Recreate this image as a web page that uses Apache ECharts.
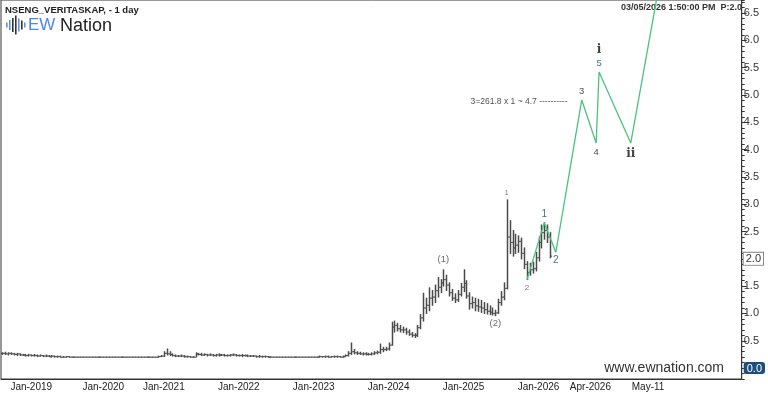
<!DOCTYPE html>
<html><head><meta charset="utf-8">
<script src="https://cdn.jsdelivr.net/npm/echarts@6/dist/echarts.min.js"></script>
<style>html,body{margin:0;padding:0;background:#fff}#c{width:768px;height:395px}</style>
</head><body><div id="c"></div>
<script>
// ---------------- data ----------------
// history: one bar every 14 days (dates with no bar are skipped)
const histStart = '2018-08-17';
const histStepDays = 14;
const histSkip = ['2019-09-27','2020-04-10','2020-04-24','2020-05-08','2020-05-22','2020-06-05'];
// projection area of the axis
const futureStart = '2026-03-06';
const futureStepDays = 2;
const futureCount = 66;

const barLow = [
 0.25,0.25,0.24,0.25,0.24,0.23,0.23,0.23,0.22,0.22,
 0.22,0.22,0.21,0.22,0.21,0.21,0.21,0.20,0.20,0.20,
 0.20,0.20,0.20,0.20,0.20,0.20,0.20,0.20,0.20,0.20,
 0.20,0.20,0.20,0.20,0.20,0.20,0.20,0.20,0.20,0.20,
 0.20,0.20,0.20,0.20,0.20,0.20,0.20,0.20,0.20,0.20,
 0.20,0.20,0.20,0.20,0.20,0.21,0.21,0.24,0.23,0.22,
 0.21,0.21,0.21,0.20,0.20,0.20,0.20,0.21,0.24,0.23,
 0.23,0.22,0.23,0.22,0.22,0.22,0.23,0.22,0.22,0.22,
 0.23,0.22,0.22,0.21,0.22,0.21,0.21,0.21,0.20,0.20,
 0.20,0.20,0.20,0.20,0.20,0.20,0.20,0.20,0.20,0.20,
 0.20,0.20,0.20,0.20,0.20,0.20,0.20,0.20,0.20,0.20,
 0.20,0.20,0.20,0.20,0.20,0.20,0.20,0.20,0.20,0.21,
 0.22,0.25,0.26,0.25,0.25,0.24,0.24,0.24,0.24,0.25,
 0.26,0.27,0.30,0.32,0.33,0.42,0.66,0.68,0.66,0.65,
 0.62,0.60,0.57,0.56,0.58,0.72,0.86,1.00,1.05,1.15,
 1.20,1.30,1.38,1.50,1.42,1.32,1.24,1.20,1.22,1.32,
 1.40,1.28,1.08,1.10,1.05,1.04,1.02,1.00,0.99,0.98,
 0.97,0.96,1.00,1.15,1.25,1.45,2.10,2.05,2.10,2.12,
 2.00,1.82,1.62,1.70,1.74,1.78,1.96,2.20,2.36,2.30,
 2.02
];
const barHigh = [
 0.28,0.29,0.28,0.28,0.27,0.27,0.26,0.25,0.25,0.25,
 0.24,0.25,0.24,0.24,0.23,0.24,0.23,0.23,0.22,0.22,
 0.22,0.21,0.21,0.21,0.20,0.20,0.20,0.20,0.20,0.20,
 0.20,0.20,0.20,0.20,0.20,0.20,0.20,0.20,0.20,0.20,
 0.20,0.20,0.20,0.20,0.20,0.20,0.20,0.20,0.20,0.20,
 0.20,0.20,0.20,0.20,0.22,0.23,0.30,0.35,0.30,0.26,
 0.24,0.23,0.24,0.23,0.22,0.21,0.21,0.28,0.27,0.27,
 0.26,0.25,0.26,0.25,0.25,0.26,0.25,0.25,0.24,0.25,
 0.26,0.25,0.24,0.25,0.24,0.24,0.23,0.23,0.22,0.23,
 0.22,0.22,0.21,0.21,0.20,0.20,0.20,0.20,0.20,0.20,
 0.20,0.20,0.20,0.20,0.20,0.20,0.20,0.20,0.20,0.20,
 0.22,0.21,0.22,0.22,0.21,0.22,0.22,0.21,0.22,0.24,
 0.30,0.46,0.34,0.30,0.29,0.28,0.28,0.27,0.28,0.30,
 0.31,0.44,0.38,0.38,0.46,0.84,0.86,0.82,0.78,0.75,
 0.73,0.70,0.65,0.63,0.78,0.98,1.37,1.28,1.47,1.42,
 1.52,1.66,1.62,1.80,1.70,1.56,1.44,1.36,1.42,1.55,
 1.80,1.60,1.38,1.30,1.28,1.26,1.24,1.20,1.18,1.14,
 1.10,1.06,1.26,1.40,1.56,3.08,2.70,2.52,2.45,2.42,
 2.38,2.20,1.95,1.92,1.94,2.12,2.40,2.62,2.66,2.62,
 2.48
];
const barClose = [
 0.27,0.26,0.27,0.26,0.25,0.26,0.24,0.24,0.23,0.24,
 0.23,0.23,0.22,0.23,0.22,0.22,0.21,0.22,0.21,0.21,
 0.20,0.20,0.21,0.20,0.20,0.20,0.20,0.20,0.20,0.20,
 0.20,0.20,0.20,0.20,0.20,0.20,0.20,0.20,0.20,0.20,
 0.20,0.20,0.20,0.20,0.20,0.20,0.20,0.20,0.20,0.20,
 0.20,0.20,0.20,0.20,0.21,0.22,0.27,0.26,0.25,0.23,
 0.22,0.22,0.22,0.21,0.21,0.20,0.20,0.26,0.25,0.24,
 0.25,0.24,0.24,0.23,0.24,0.24,0.24,0.23,0.23,0.24,
 0.24,0.23,0.23,0.23,0.23,0.22,0.22,0.22,0.21,0.21,
 0.21,0.21,0.20,0.20,0.20,0.20,0.20,0.20,0.20,0.20,
 0.20,0.20,0.20,0.20,0.20,0.20,0.20,0.20,0.20,0.20,
 0.21,0.21,0.21,0.20,0.21,0.21,0.21,0.20,0.21,0.23,
 0.27,0.30,0.28,0.27,0.26,0.26,0.25,0.25,0.26,0.28,
 0.29,0.34,0.34,0.35,0.42,0.75,0.78,0.72,0.70,0.70,
 0.66,0.62,0.60,0.60,0.74,0.92,1.10,1.15,1.28,1.30,
 1.42,1.48,1.56,1.62,1.52,1.38,1.28,1.25,1.35,1.48,
 1.55,1.32,1.18,1.20,1.14,1.12,1.10,1.07,1.04,1.02,
 1.00,1.01,1.20,1.30,1.46,2.40,2.30,2.20,2.25,2.32,
 2.10,1.90,1.75,1.80,1.82,2.02,2.30,2.48,2.52,2.40,
 2.05
];

// Elliott wave projection path
const waveDates  = ['2025-10-31','2026-01-23','2026-03-08','2026-03-26','2026-04-05','2026-04-07','2026-04-29','2026-05-21'];
const waveValues = [1.62, 2.66, 2.12, 4.91, 4.12, 5.42, 4.12, 7.35];

// wave labels
const labelTexts  = ['1','2','(1)','(2)','1','2','3','4','5','i','ii','3=261.8 x 1 ~ 4.7 ----------'];
const labelDates  = ['2025-07-25','2025-10-31','2024-09-20','2025-05-30','2026-01-23','2026-03-08','2026-03-26','2026-04-05','2026-04-07','2026-04-07','2026-04-29','2026-03-14'];
const labelValues = [3.08, 1.62, 1.80, 0.96, 2.66, 2.12, 4.91, 4.12, 5.42, 5.42, 4.12, 4.7];

// axis ticks
const xTickDates  = ['2019-01-04','2020-01-03','2021-01-01','2021-12-31','2022-12-30','2023-12-29','2024-12-27','2025-12-26','2026-04-01','2026-05-11','2026-06-30'];
const xTickLabels = ['Jan-2019','Jan-2020','Jan-2021','Jan-2022','Jan-2023','Jan-2024','Jan-2025','Jan-2026','Apr-2026','May-11',''];
const yTickValues = [0,0.5,1,1.5,2,2.5,3,3.5,4,4.5,5,5.5,6,6.5];
const currentPrice = 2.0;

// ---------------- build ----------------
const FONT = '"Liberation Sans", Arial, sans-serif';
function fmt(d){ return d.toISOString().slice(0,10); }
function addDays(s,n){ return new Date(Date.parse(s+'T00:00:00Z') + n*86400000); }
const histDates = [];
for (let k=0; histDates.length < barClose.length; k++){
  const s = fmt(addDays(histStart, k*histStepDays));
  if (!histSkip.includes(s)) histDates.push(s);
}
const futureDates = [];
for (let j=0; j<futureCount; j++) futureDates.push(fmt(addDays(futureStart, j*futureStepDays)));
const categories = histDates.concat(futureDates);

const ohlc = barClose.map((c,i)=>[i, i ? barClose[i-1] : c, barHigh[i], barLow[i], c]);

const labelMap = new Map(xTickDates.map((d,i)=>[d, xTickLabels[i]]));

const SERIF = '"DejaVu Serif", "Liberation Serif", serif';
const labelStyles = [
  {position:'top',    distance:2, fontSize:7,  color:'#555'},
  {position:'bottom', distance:3, fontSize:8,  color:'#3a4f70'},
  {position:'top',    distance:4, fontSize:9.5,color:'#3c4252'},
  {position:'bottom', distance:2, fontSize:9.5,color:'#3c4252'},
  {position:'top',    distance:3, fontSize:10, color:'#26457a'},
  {position:'bottom', distance:2, fontSize:10, color:'#26457a'},
  {position:'top',    distance:3, fontSize:9.5,color:'#1a1a1a'},
  {position:'bottom', distance:3, fontSize:9.5,color:'#1a1a1a'},
  {position:'top',    distance:3, fontSize:9.5,color:'#26457a'},
  {position:'top',    distance:15, fontSize:12, color:'#111', fontFamily:SERIF, fontWeight:'bold'},
  {position:'bottom', distance:4, fontSize:12, color:'#111', fontFamily:SERIF, fontWeight:'bold'},
  {position:'left',   distance:0, fontSize:8.5,color:'#222', offset:[4,-10]}
];
const labelData = labelTexts.map((t,i)=>({
  value:[labelDates[i], labelValues[i]],
  label:Object.assign({show:true, formatter:t, fontFamily:FONT}, labelStyles[i])
}));

function renderOHLC(params, api){
  const i = api.value(0);
  const pH = api.coord([i, api.value(2)]);
  const pL = api.coord([i, api.value(3)]);
  const pO = api.coord([i, api.value(1)]);
  const pC = api.coord([i, api.value(4)]);
  const x = Math.round(pH[0]) + 0.5;
  const st = {stroke:'#4a4a4a', lineWidth:1.5};
  const tk = {stroke:'#555', lineWidth:1.1};
  return {type:'group', children:[
    {type:'line', shape:{x1:x, y1:pH[1]-0.5, x2:x, y2:pL[1]+0.5}, style:st},
    {type:'line', shape:{x1:x-1.6, y1:pO[1], x2:x, y2:pO[1]}, style:tk},
    {type:'line', shape:{x1:x, y1:pC[1], x2:x+1.6, y2:pC[1]}, style:tk}
  ]};
}

// logo bars
const logoX = [6,9,12,15,18,21,24];
const logoH = [5,10,14,19,13,9,5];
const logoC = ['#5b8ff0','#5b8ff0','#333','#333','#5b8ff0','#333','#5b8ff0'];
const logoGraphics = logoX.map((x,i)=>({type:'rect', shape:{x:x, y:25-logoH[i]/2, width:1.6, height:logoH[i]}, style:{fill:logoC[i]}}));

const chart = echarts.init(document.getElementById('c'));
chart.setOption({
  animation:false,
  backgroundColor:'#fff',
  grid:{left:1, right:23, top:0, bottom:16, show:true, borderColor:'#333', borderWidth:1},
  xAxis:{
    type:'category', data:categories, boundaryGap:true,
    axisLine:{onZero:false, lineStyle:{color:'#333'}},
    axisTick:{alignWithLabel:true, interval:(i,v)=>labelMap.has(v), length:4, lineStyle:{color:'#333'}},
    axisLabel:{interval:(i,v)=>labelMap.has(v), formatter:v=>labelMap.get(v)||'', fontSize:10, color:'#222', margin:3, fontFamily:FONT},
    splitLine:{show:false}
  },
  yAxis:[{
    type:'value', position:'right', min:-0.2, max:6.74,
    axisLine:{show:true, lineStyle:{color:'#333'}},
    axisTick:{show:true, length:5, customValues:yTickValues, lineStyle:{color:'#333'}},
    axisLabel:{customValues:yTickValues, fontSize:11, color:'#333', margin:2, fontFamily:FONT,
      formatter:v=>{
        const s = v.toFixed(1);
        if (Math.abs(v-currentPrice)<1e-9) return '{cur|'+s+'}';
        if (v===0) return '{zero|'+s+'}';
        return s;
      },
      rich:{
        cur:{fontSize:11, color:'#333', backgroundColor:'#fff', borderColor:'#888', borderWidth:1, padding:[1,2,0,2], fontFamily:FONT},
        zero:{fontSize:11, color:'#fff', backgroundColor:'#1d4e7e', borderRadius:3, padding:[1,3,0,3], fontFamily:FONT}
      }},
    splitLine:{show:false}
  },{
    type:'value', position:'right', min:-0.2, max:6.74, interval:0.1,
    axisLine:{show:false}, axisTick:{show:true, length:3, lineStyle:{color:'#333'}},
    axisLabel:{show:false}, splitLine:{show:false}
  }],
  series:[
    {type:'custom', name:'price', renderItem:renderOHLC, data:ohlc, encode:{x:0, y:[1,2,3,4]}, z:2},
    {type:'line', name:'projection', data:waveDates.map((d,i)=>[d, waveValues[i]]), symbol:'none',
     lineStyle:{color:'#4cc27c', width:1.3}, z:3, clip:true},
    {type:'scatter', name:'labels', data:labelData, symbolSize:2, itemStyle:{color:'rgba(0,0,0,0)'}, z:4, silent:true}
  ],
  graphic:[
    {type:'text', left:5, top:5, style:{text:'NSENG_VERITASKAP, - 1 day', font:'bold 9.5px '+FONT, fill:'#222'}},
    {type:'group', children:logoGraphics},
    {type:'text', left:28, top:17, style:{text:'EW', font:'17px '+FONT, fill:'#4f86ea'}},
    {type:'text', left:60, top:17, style:{text:'Nation', font:'18px '+FONT, fill:'#222'}},
    {type:'text', right:26, top:3, style:{text:'03/05/2026 1:50:00 PM  P:2.0', font:'bold 9px '+FONT, fill:'#333'}},
    {type:'text', right:44, top:361, style:{text:'www.ewnation.com', font:'14px '+FONT, fill:'#333'}}
  ]
});
</script>
</body></html>
